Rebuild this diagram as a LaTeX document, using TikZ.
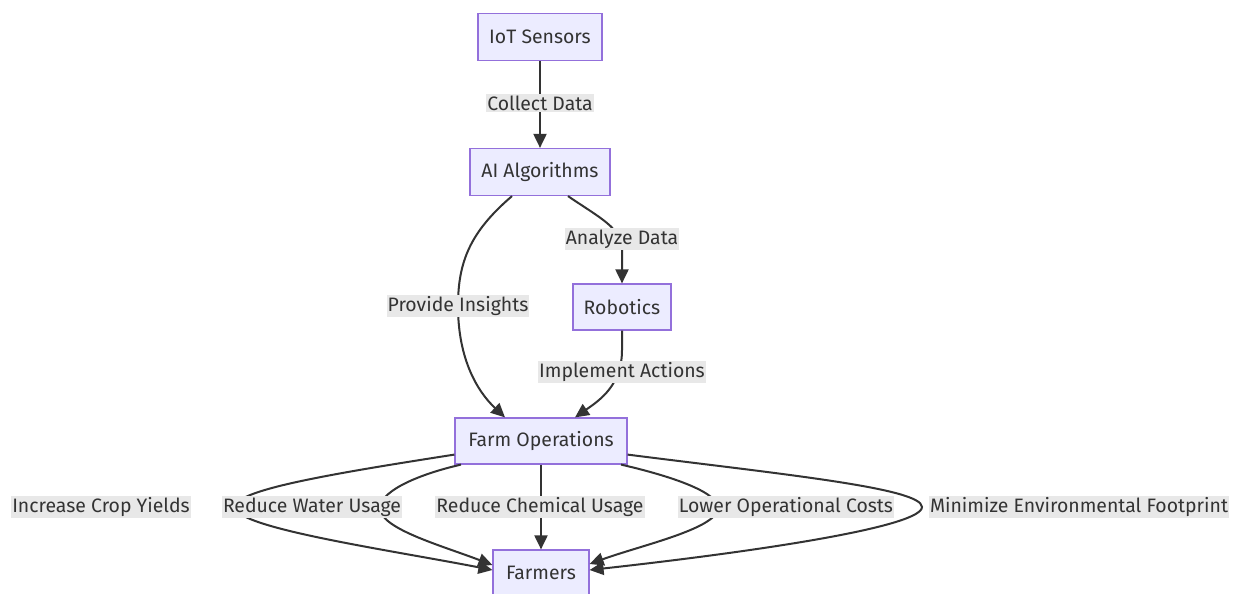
\documentclass[tikz,border=0pt]{standalone}
\usepackage{fontspec}
\setmainfont{Fira Sans}
\usetikzlibrary{arrows.meta}
\definecolor{nodefill}{HTML}{ECECFF}
\definecolor{nodeline}{HTML}{9370DB}
\definecolor{ink}{HTML}{333333}
\definecolor{lblbg}{HTML}{E8E8E8}
\tikzset{
  box/.style={draw=nodeline, fill=nodefill, line width=1.2bp, text=ink, inner sep=0pt,
    font=\fontsize{19.5}{22}\selectfont},
  lbl/.style={fill=lblbg, text=ink, inner xsep=1bp, inner ysep=1.5bp,
    font=\fontsize{19.5}{22}\selectfont},
  edge/.style={draw=ink, line width=2bp, -{Triangle[length=14bp,width=13bp]}},
}
\begin{document}
\begin{tikzpicture}[x=1bp,y=-1bp]
\useasboundingbox (0,0) rectangle (1238,594);
\fill[white] (0,0) rectangle (1238,594);
% nodes
\node[box, minimum width=124bp, minimum height=47bp] (iot) at (540,37) {IoT Sensors};
\node[box, minimum width=140bp, minimum height=47bp] (ai) at (540,172) {AI Algorithms};
\node[box, minimum width=98bp, minimum height=46bp] (rob) at (622,307) {Robotics};
\node[box, minimum width=172bp, minimum height=46bp] (farm) at (541,441) {Farm Operations};
\node[box, minimum width=96bp, minimum height=46bp] (farmers) at (541,573) {Farmers};
% edges
\draw[edge] (iot) -- (ai);
\draw[edge] ([xshift=-28bp]ai.south) .. controls (470,232) and (458,262) .. (458,306)
   .. controls (458,360) and (478,392) .. ([xshift=-36bp]farm.north);
\draw[edge] ([xshift=28bp]ai.south) .. controls (600,218) and (622,228) .. (622,250) -- (rob.north);
\draw[edge] (rob.south) -- (622,350) .. controls (622,385) and (600,400) .. ([xshift=34bp]farm.north);
\draw[edge] ([yshift=10bp]farm.south west) .. controls (330,474) and (235,490) .. (235,507)
   .. controls (235,528) and (390,550) .. ([yshift=3bp]farmers.west);
\draw[edge] ([xshift=-80bp]farm.south) .. controls (420,474) and (382,490) .. (380,507)
   .. controls (378,528) and (440,545) .. ([yshift=8bp]farmers.west);
\draw[edge] (farm.south) -- (farmers.north);
\draw[edge] ([xshift=80bp]farm.south) .. controls (662,474) and (716,490) .. (718,507)
   .. controls (720,528) and (642,545) .. ([yshift=9bp]farmers.east);
\draw[edge] ([yshift=10bp]farm.south east) .. controls (780,474) and (922,488) .. (922,507)
   .. controls (922,526) and (770,550) .. ([yshift=3bp]farmers.east);
% labels
\node[lbl] (l1) at (540,103) {Collect Data};
\node[lbl] (l2) at (622,239) {Analyze Data};
\node[lbl] (l3) at (458,306) {Provide Insights};
\node[lbl] (l4) at (622,372) {Implement Actions};
\node[lbl] (l5) at (101,507) {Increase Crop Yields};
\node[lbl] (l6) at (312,507) {Reduce Water Usage};
\node[lbl] (l7) at (540,507) {Reduce Chemical Usage};
\node[lbl] (l8) at (786,507) {Lower Operational Costs};
\node[lbl] (l9) at (1079,507) {Minimize Environmental Footprint};
\end{tikzpicture}
\end{document}
